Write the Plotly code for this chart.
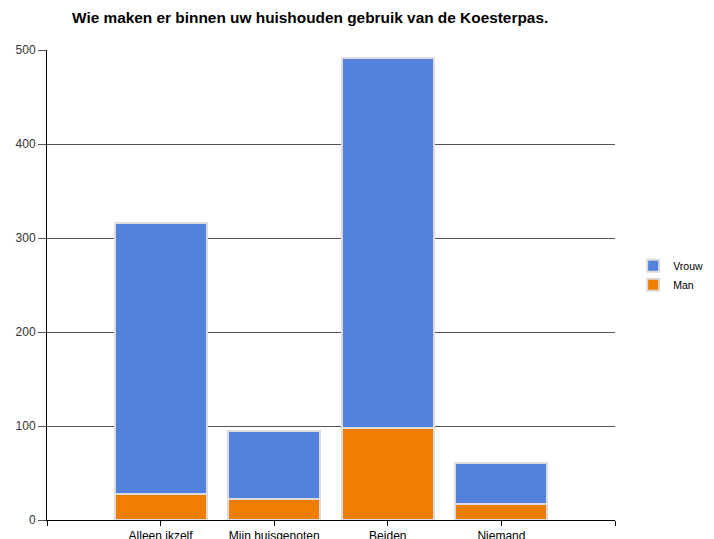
import plotly.graph_objects as go

categories = ["Alleen ikzelf", "Mijn huisgenoten", "Beiden", "Niemand"]
man = [28, 22, 98, 17]
vrouw = [288, 73, 393, 44]
y_ticks = [0, 100, 200, 300, 400, 500]

xpos = list(range(len(categories)))

fig = go.Figure()
fig.add_trace(go.Bar(
    x=xpos, y=man, name="Man", width=0.81,
    marker=dict(color="#F07E00", line=dict(color="#DCDCDC", width=2)),
))
fig.add_trace(go.Bar(
    x=xpos, y=vrouw, name="Vrouw", width=0.81,
    marker=dict(color="#5282DC", line=dict(color="#DCDCDC", width=2)),
))

# page has an 8px body margin, so the figure is sized/offset to compensate
fig.update_layout(
    barmode="stack",
    width=706, height=531,
    paper_bgcolor="white", plot_bgcolor="white",
    margin=dict(l=39, r=99, t=42, b=19, autoexpand=False),
    font=dict(family="Liberation Sans, Arial, sans-serif", size=12, color="#000"),
    title=dict(
        text="<b>Wie maken er binnen uw huishouden gebruik van de Koesterpas.</b>",
        x=64 / 706, xanchor="left", y=1 - 10 / 531, yanchor="middle",
        font=dict(size=15.4, color="#000"),
    ),
    legend=dict(
        x=1.032, xanchor="left", y=0.521, yanchor="middle",
        font=dict(size=10.5, color="#000"),
        itemwidth=30, tracegroupgap=2,
    ),
    showlegend=True,
)
fig.update_xaxes(
    range=[-1, len(categories)],
    tickvals=[-1] + xpos + [len(categories)],
    ticktext=[""] + categories + [""],
    ticks="outside", ticklen=5, tickcolor="#000",
    showline=True, linecolor="#000", linewidth=1,
    showgrid=False, zeroline=False, automargin=False,
    tickfont=dict(size=12),
)
fig.update_yaxes(
    range=[0, 500],
    tickvals=y_ticks,
    ticks="outside", ticklen=8, tickcolor="#555",
    showline=True, linecolor="#000", linewidth=1,
    showgrid=True, gridcolor="#555555", gridwidth=1,
    zeroline=False, automargin=False,
    tickfont=dict(size=12, color="#333"),
)

fig.write_html("out.html")
